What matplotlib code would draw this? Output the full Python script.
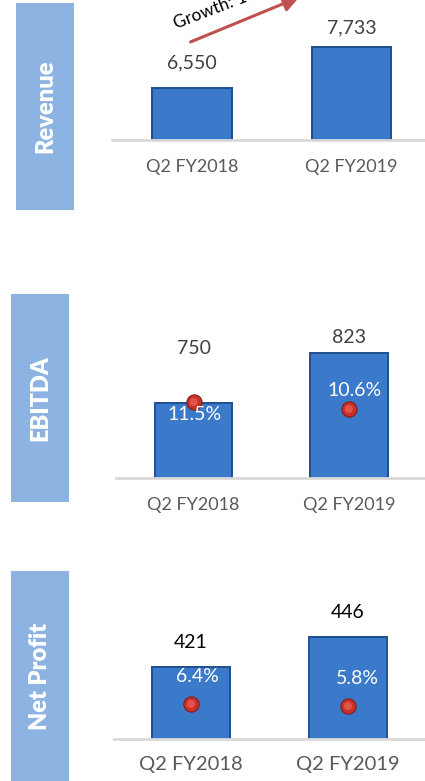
import matplotlib
matplotlib.use("Agg")
import matplotlib.pyplot as plt
from matplotlib.patches import Rectangle, FancyArrowPatch

plt.rcParams['font.family'] = ['Lato', 'DejaVu Sans']

# ---------------- data ----------------
categories = ["Q2 FY2018", "Q2 FY2019"]
revenue = [6550, 7733]
ebitda = [750, 823]
ebitda_margin = [11.5, 10.6]
net_profit = [421, 446]
net_margin = [6.4, 5.8]
revenue_labels = ["6,550", "7,733"]
growth_text = "Growth: 18%"

W, H = 425, 781
fig = plt.figure(figsize=(W / 100, H / 100), dpi=100)

BOX = '#8db3e2'
BAR = '#3b7acb'
BAR_EDGE = '#1f4f8e'
BALL = '#c8302a'
BASE = '#d9d9d9'


def add_ax(l, t, r, b):
    return fig.add_axes([l / W, 1 - b / H, (r - l) / W, (b - t) / H])


def label_box(l, t, r, b, text):
    fig.add_artist(Rectangle((l / W, 1 - b / H), (r - l) / W, (b - t) / H,
                             transform=fig.transFigure, facecolor=BOX,
                             edgecolor='none'))
    fig.text((l + r) / 2 / W, 1 - (t + b) / 2 / H, text, rotation=90,
             ha='center', va='center', color='white', fontsize=17,
             fontweight='heavy')


def panel(ax, vals, labels, ylim, xlim, label_offsets, label_color,
          tick_size, tick_pad):
    x = list(range(len(vals)))
    ax.bar(x, vals, width=0.5, color=BAR, edgecolor=BAR_EDGE, linewidth=1.4,
           zorder=2)
    ax.set_ylim(*ylim)
    ax.set_xlim(*xlim)
    for xi, v, lab, off in zip(x, vals, labels, label_offsets):
        ax.annotate(lab, (xi, v), xytext=(0, off), textcoords='offset pixels',
                    ha='center', va='center', fontsize=14, color=label_color,
                    annotation_clip=False)
    ax.set_xticks(x)
    ax.set_xticklabels(categories, fontsize=tick_size, color='#595959')
    ax.tick_params(axis='x', length=0, pad=tick_pad)
    ax.set_yticks([])
    for s in ['top', 'left', 'right']:
        ax.spines[s].set_visible(False)
    ax.spines['bottom'].set_color(BASE)
    ax.spines['bottom'].set_linewidth(2)
    ax.patch.set_alpha(0)


def margins(ax, vals, ylim, offsets):
    tw = ax.twinx()
    tw.set_ylim(*ylim)
    x = list(range(len(vals)))
    tw.scatter(x, vals, s=120, color=BALL, edgecolor='#8a1a16', linewidth=0.8,
               zorder=5)
    tw.scatter(x, vals, s=35, color='#e0544a', edgecolor='none', zorder=6)
    for xi, v, off in zip(x, vals, offsets):
        tw.annotate(f"{v:.1f}%", (xi, v), xytext=off,
                    textcoords='offset pixels', ha='center', va='center',
                    fontsize=14, color='white', zorder=7)
    tw.set_yticks([])
    for s in tw.spines.values():
        s.set_visible(False)
    return tw


# ---------------- Revenue ----------------
label_box(16, 3, 74, 210, "Revenue")
ax1 = add_ax(112, 0, 425, 140)
panel(ax1, revenue, revenue_labels, (5050, 9088), (-0.5016, 1.461),
      [25, 19], '#404040', 13, 14)
arrow = FancyArrowPatch((188, H - 43), (302, H + 4),
                        transform=None, arrowstyle='-|>', mutation_scale=24,
                        color='#c0504d', linewidth=2.2)
fig.add_artist(arrow)
fig.text(176 / W, 1 - 29 / H, growth_text, rotation=21, rotation_mode='anchor',
         ha='left', va='baseline', fontsize=12.5, color='black')

# ---------------- EBITDA ----------------
label_box(11, 294, 69, 502, "EBITDA")
ax2 = add_ax(116, 280, 425, 478)
panel(ax2, ebitda, [str(v) for v in ebitda], (640, 930), (-0.5, 1.49),
      [54, 16], '#404040', 13, 14)
margins(ax2, ebitda_margin, (1.73, 27.19), [(1, -12), (6, 19)])

# ---------------- Net Profit ----------------
label_box(11, 571, 69, 781, "Net Profit")
ax3 = add_ax(114, 560, 425, 739)
panel(ax3, net_profit, [str(v) for v in net_profit], (361, 510.2),
      (-0.49, 1.49), [25, 25], 'black', 14.5, 12)
margins(ax3, net_margin, (-4.1, 49.6), [(6, 27), (9, 28)])

fig.savefig("out.png", dpi=100)
